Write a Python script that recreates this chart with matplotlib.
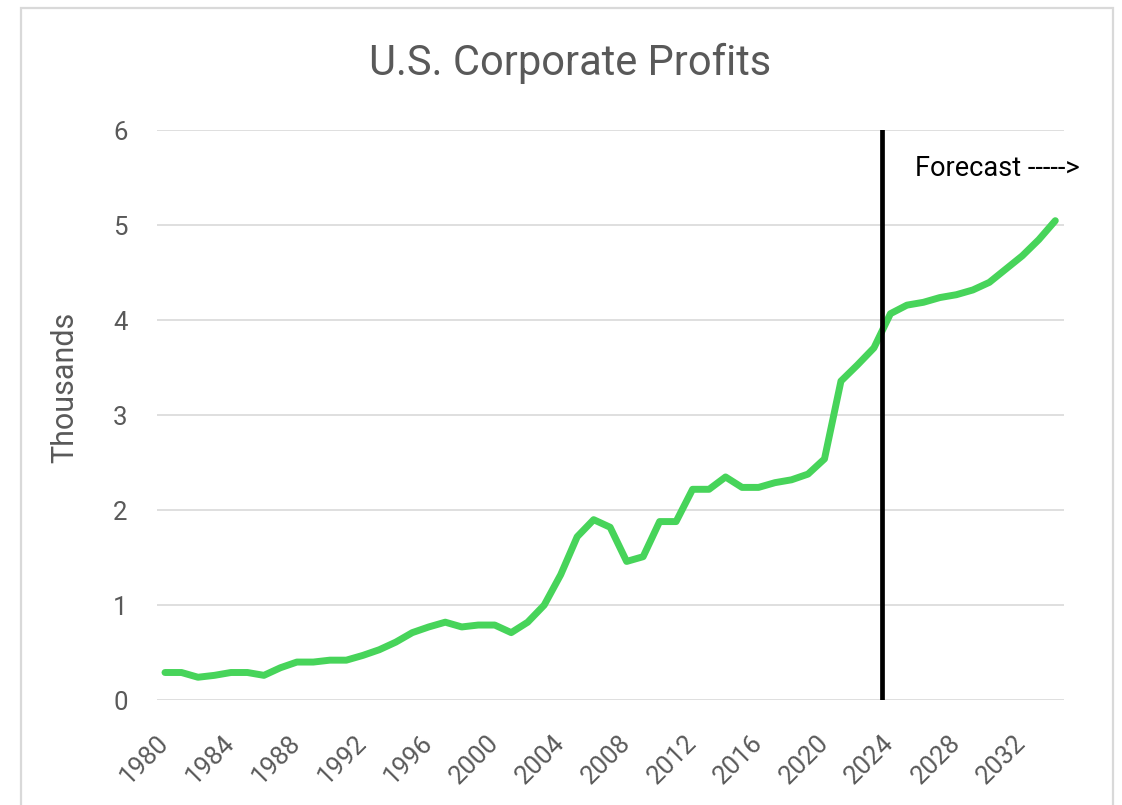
import matplotlib
matplotlib.use("Agg")
import matplotlib.pyplot as plt
from matplotlib.patches import Rectangle

# U.S. corporate profits, thousands
years = list(range(1980, 2035))
profits = [
    0.29, 0.29, 0.24, 0.26, 0.29, 0.29, 0.26, 0.34, 0.40, 0.40,
    0.42, 0.42, 0.47, 0.53, 0.61, 0.71, 0.77, 0.82, 0.77, 0.79,
    0.79, 0.71, 0.82, 1.00, 1.32, 1.72, 1.90, 1.82, 1.46, 1.51,
    1.88, 1.88, 2.22, 2.22, 2.35, 2.24, 2.24, 2.29, 2.32, 2.38,
    2.54, 3.36, 3.53, 3.71, 4.07, 4.16, 4.19, 4.24, 4.27, 4.32,
    4.40, 4.54, 4.68, 4.85, 5.05,
]
tick_years = years[:-2:4]
y_ticks = [0, 1, 2, 3, 4, 5, 6]
forecast_start = 2023.5

GREY_TEXT = "#595959"
GRID = "#d9d9d9"
GREEN = "#47d45a"

plt.rcParams["font.family"] = ["Roboto", "DejaVu Sans"]

fig = plt.figure(figsize=(11.22, 8.05), dpi=100)
ax = fig.add_axes([0.1397, 0.1304, 0.9479 - 0.1397, 0.8379 - 0.1304])

# outer chart border (bottom edge runs off the crop)
fig.patches.append(Rectangle((21 / 1122, -0.02), (1113 - 21) / 1122, 1.02 - 8 / 805,
                             transform=fig.transFigure, fill=False,
                             edgecolor=GRID, lw=1.6))

ax.plot(years, profits, color=GREEN, lw=5, solid_joinstyle="round",
        solid_capstyle="round", zorder=3)
ax.axvline(forecast_start, color="black", lw=3.4, zorder=4)

ax.set_xlim(years[0] - 0.5, years[-1] + 0.5)
ax.set_ylim(0, 6)
ax.set_yticks(y_ticks)
ax.set_xticks(tick_years)
ax.set_xticklabels([str(y) for y in tick_years], rotation=45, ha="right",
                   va="center", rotation_mode="anchor")

ax.grid(axis="y", color=GRID, lw=1.2)
ax.set_axisbelow(True)
for s in ax.spines.values():
    s.set_visible(False)
ax.tick_params(axis="both", length=0, labelsize=18.5, labelcolor=GREY_TEXT)
ax.tick_params(axis="x", pad=28)
ax.tick_params(axis="y", pad=21)

ax.set_ylabel("Thousands", fontsize=22, color=GREY_TEXT)
ax.yaxis.set_label_coords(-0.085, 0.549)
fig.text(570 / 1122, 1 - 63 / 805, "U.S. Corporate Profits", ha="center",
         va="center", fontsize=30, color=GREY_TEXT)
ax.text(2025.5, 5.6, "Forecast ----->", fontsize=19.5, color="black",
        ha="left", va="center")

fig.savefig("out.png", dpi=100)
